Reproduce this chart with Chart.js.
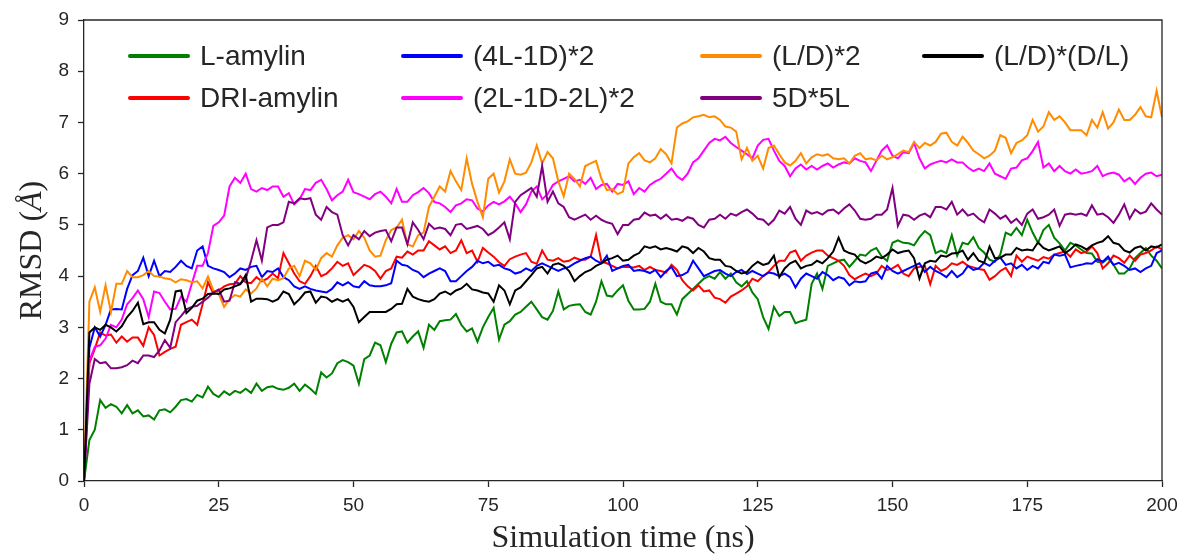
<!DOCTYPE html>
<html>
<head>
<meta charset="utf-8">
<script src="https://cdn.jsdelivr.net/npm/chart.js@4/dist/chart.umd.min.js"></script>
<style>
  html, body { margin: 0; padding: 0; background: #fff; }
</style>
</head>
<body>
<canvas id="rmsd_chart" width="1182" height="555"></canvas>
<script>
// RMSD vs simulation time, one value per ns (0..200)
const timeNs = Array.from({ length: 201 }, (_, i) => i);

const seriesNames = ['L-amylin', 'DRI-amylin', '(4L-1D)*2', '(2L-1D-2L)*2', '(L/D)*2', '5D*5L', '(L/D)*(D/L)'];
const seriesColors = ['#008000', '#ff0000', '#0000ff', '#ff00ff', '#ff8c00', '#800080', '#000000'];

const lAmylin = [
  0, 0.8, 1.0, 1.58, 1.43, 1.5, 1.45, 1.32, 1.48, 1.32,
  1.38, 1.26, 1.28, 1.2, 1.38, 1.4, 1.34, 1.45, 1.58, 1.6,
  1.55, 1.68, 1.63, 1.84, 1.7, 1.64, 1.75, 1.68, 1.76, 1.72,
  1.8, 1.72, 1.9, 1.76, 1.83, 1.85, 1.8, 1.78, 1.82, 1.9,
  1.76, 1.88, 1.8, 1.7, 2.12, 2.02, 2.1, 2.3, 2.36, 2.32,
  2.25, 1.9, 2.38, 2.45, 2.7, 2.65, 2.32, 2.68, 2.9, 2.92,
  2.7, 2.82, 2.92, 2.6, 3.05, 2.95, 3.12, 3.14, 3.15, 3.26,
  3.05, 2.92, 2.98, 2.72, 3.0, 3.2, 3.38, 2.76, 3.05, 3.12,
  3.25, 3.3, 3.4, 3.5, 3.35, 3.2, 3.15, 3.32, 3.7, 3.35,
  3.42, 3.44, 3.45, 3.3, 3.25, 3.5, 3.9, 3.62, 3.6, 3.72,
  3.82, 3.52, 3.35, 3.35, 3.36, 3.5, 3.85, 3.5, 3.45, 3.45,
  3.25, 3.55, 3.65, 3.75, 3.85, 3.95, 4.0, 3.95, 4.08, 3.95,
  4.05, 3.88, 3.8, 3.9, 3.68, 3.55, 3.2, 2.97, 3.4, 3.22,
  3.3, 3.3, 3.08, 3.12, 3.15, 3.85, 4.05, 3.75, 4.2, 4.25,
  4.3, 4.32, 4.18, 4.3, 4.42, 4.4, 4.5, 4.55, 4.38, 4.3,
  4.65, 4.7, 4.65, 4.64, 4.6, 4.76, 4.88, 4.8, 4.45, 4.5,
  4.45, 4.8, 4.4, 4.65, 4.62, 4.76, 4.55, 4.46, 4.32, 4.28,
  4.42, 4.85, 4.8, 4.94, 4.8, 5.1, 4.85, 4.65, 4.9, 5.0,
  4.75, 4.64, 4.5, 4.65, 4.6, 4.52, 4.45, 4.44, 4.28, 4.26,
  4.35, 4.22, 4.05, 4.05, 4.15, 4.35, 4.45, 4.55, 4.4, 4.3,
  4.15
];

const driAmylin = [
  0, 2.3, 2.58, 2.9, 2.84, 2.86, 2.7, 2.82, 2.72, 2.8,
  2.8, 2.64, 3.0, 2.85, 2.45, 2.52, 2.58, 2.62, 3.05, 3.1,
  3.15, 3.05, 3.45, 3.88, 3.66, 3.72, 3.8, 3.84, 3.85, 4.0,
  3.88, 3.86, 3.98, 3.9, 3.95, 4.05, 3.96, 4.45, 4.25, 4.05,
  3.9, 3.85, 4.0, 4.2, 4.0, 4.05, 4.15, 4.28, 4.2, 4.25,
  4.02, 4.12, 4.22, 4.18, 4.1, 3.95, 4.1, 4.15, 4.38, 4.36,
  4.48, 4.42, 4.5, 4.5, 4.68, 4.6, 4.52, 4.58, 4.45, 4.5,
  4.7, 4.45, 4.5, 4.28, 4.55, 4.46, 4.38, 4.27, 4.2, 4.33,
  4.38, 4.42, 4.45, 4.28, 4.24, 4.5, 4.32, 4.3, 4.35, 4.28,
  4.3, 4.36, 4.32, 4.32, 4.38, 4.8, 4.28, 4.25, 4.2, 4.15,
  4.18, 4.18, 4.17, 4.2, 4.12, 4.18, 4.12, 4.1, 4.07, 4.22,
  4.12, 3.92, 3.8, 3.72, 3.82, 3.7, 3.72, 3.58, 3.55, 3.48,
  3.6, 3.66, 3.72, 3.8, 3.95, 3.9, 4.0, 4.08, 4.2, 4.3,
  4.3, 4.46, 4.5, 4.3, 4.4, 4.46, 4.5, 4.5, 4.4, 4.35,
  4.3, 4.2, 4.02, 3.94, 4.0, 4.05, 4.0, 4.05, 4.2, 4.12,
  4.15, 4.22, 4.05, 4.0, 4.15, 4.18, 4.2, 3.84, 4.2, 4.1,
  4.15, 4.25, 4.22, 4.28, 4.2, 4.17, 4.14, 4.12, 3.93, 4.0,
  4.1, 4.16, 4.0, 4.4, 4.28, 4.38, 4.34, 4.3, 4.37, 4.34,
  4.42, 4.45, 4.48, 4.38, 4.52, 4.45, 4.48, 4.58, 4.45, 4.15,
  4.25, 4.4, 4.35, 4.26, 4.4, 4.3, 4.42, 4.45, 4.5, 4.58,
  4.52
];

const lD4x2 = [
  0, 2.6, 3.0, 2.82, 3.05, 3.35, 3.36, 3.35, 3.75, 4.02,
  4.1, 4.36, 4.0, 4.3, 4.0, 4.1, 4.08, 4.18, 4.3, 4.2,
  4.15, 4.5, 4.58, 4.2, 4.15, 4.12, 4.08, 3.98, 4.05, 4.15,
  4.12, 4.18, 4.2, 3.98, 4.1, 4.08, 4.15, 3.98, 3.92, 3.8,
  3.75, 3.8, 3.75, 3.72, 3.7, 3.68, 3.75, 3.88, 3.82, 3.88,
  3.8, 3.78, 3.9, 3.82, 3.8, 3.8, 3.82, 3.86, 4.3, 4.22,
  4.2, 4.12, 4.08, 3.98, 4.05, 4.1, 4.15, 4.1, 3.9, 3.9,
  4.0, 4.1, 4.18, 4.3, 4.25, 4.28, 4.2, 4.22, 4.15, 4.12,
  4.05, 4.08, 4.15, 4.1, 4.2, 4.25, 4.2, 4.15, 4.1, 4.15,
  4.18, 4.25, 4.3, 4.35, 4.38, 4.3, 4.25, 4.4, 4.1, 4.15,
  4.2, 4.22, 4.1, 4.12, 4.1, 4.06, 4.12, 3.98, 4.1, 4.18,
  4.0, 4.02, 4.08, 4.3, 4.15, 4.0, 4.05, 4.1, 4.12, 4.05,
  4.0, 4.08, 4.12, 4.04, 4.1, 4.05, 4.0, 4.07, 4.05, 4.0,
  4.05, 3.98, 3.78, 3.95, 4.05, 4.0, 3.95, 4.08, 4.02, 3.92,
  3.98, 3.95, 3.82, 3.9, 3.88, 3.9, 4.05, 4.08, 3.95, 4.2,
  4.1, 4.05, 4.1, 4.15, 4.2, 4.25, 4.08, 4.18, 4.1, 4.05,
  3.98, 4.1, 3.98, 4.05, 4.2, 4.12, 4.15, 4.26, 4.2, 4.3,
  4.36, 4.22, 4.25, 4.15, 4.22, 4.12, 4.2, 4.15, 4.28, 4.25,
  4.42, 4.4, 4.42, 4.17, 4.2, 4.22, 4.25, 4.24, 4.33, 4.28,
  4.38, 4.22, 4.26, 4.2, 4.12, 4.15, 4.08, 4.15, 4.2, 4.45,
  4.5
];

const lD2L2x2 = [
  0, 2.35, 2.62, 2.65, 2.78, 3.05, 3.0, 3.15, 3.45, 3.57,
  3.72, 3.55, 3.2, 3.7, 3.67, 3.5, 3.35, 3.36, 3.6, 3.5,
  3.85, 4.2, 4.2, 4.45, 4.98, 5.05, 5.18, 5.75, 5.92, 5.82,
  6.0, 5.7, 5.65, 5.72, 5.68, 5.75, 5.75, 5.55, 5.62, 5.4,
  5.5, 5.7, 5.68, 5.82, 5.88, 5.7, 5.48, 5.58, 5.65, 5.88,
  5.64, 5.6, 5.55, 5.5, 5.6, 5.65, 5.55, 5.42, 5.7, 5.45,
  5.45, 5.58, 5.64, 5.72, 5.62, 5.45, 5.42, 5.35, 5.25, 5.38,
  5.42, 5.5, 5.48, 5.32, 5.26, 5.38, 5.45, 5.4, 5.46, 5.55,
  5.42, 5.25, 5.4, 5.65, 5.75, 5.5, 5.6, 5.78, 5.85, 5.9,
  5.95, 5.85, 5.88, 5.8, 5.92, 5.7, 5.78, 5.8, 5.65, 5.8,
  5.78, 5.85, 5.6, 5.72, 5.65, 5.78, 5.85, 5.9, 6.0, 6.1,
  5.95, 5.88, 6.0, 6.22, 6.3, 6.45, 6.6, 6.68, 6.65, 6.72,
  6.6, 6.52, 6.45, 6.38, 6.3, 6.55, 6.66, 6.68, 6.45, 6.25,
  6.15, 5.95, 6.1, 6.18, 6.08, 6.15, 6.08, 6.15, 6.2, 6.12,
  6.18, 6.22, 6.2, 6.3, 6.25, 6.22, 6.05, 6.25, 6.45, 6.55,
  6.35, 6.3, 6.42, 6.4, 6.6, 6.3, 6.1, 6.18, 6.22, 6.25,
  6.22, 6.28, 6.22, 6.22, 6.12, 6.05, 6.1, 6.05, 6.2, 6.0,
  5.95, 5.9, 6.1, 6.12, 6.26, 6.3, 6.44, 6.62, 6.12, 6.2,
  6.05, 6.15, 6.05, 6.0, 6.08, 6.0, 6.02, 6.05, 6.15, 5.95,
  6.0, 6.02, 5.98, 5.85, 5.92, 5.8, 5.92, 6.0, 6.02, 5.95,
  5.98
];

const ldX2 = [
  0, 3.5, 3.78, 3.3, 3.82, 3.3, 3.85, 3.85, 4.1, 3.98,
  3.98, 4.02, 4.1, 4.0, 3.99, 3.96, 3.94, 3.88, 3.94, 3.92,
  3.88, 3.9, 3.76, 3.99, 3.72, 3.65, 3.4, 3.55, 3.63, 3.6,
  3.74, 3.66, 3.76, 3.95, 3.8, 3.95, 3.92, 3.96, 4.15, 4.2,
  4.0, 4.3, 4.25, 4.12, 4.35, 4.45, 4.38, 4.6, 4.75, 4.8,
  4.72, 4.88, 4.75, 4.5, 4.38, 4.4, 4.7, 4.9, 4.95, 5.1,
  4.62, 4.58, 4.8, 4.85, 5.35, 5.55, 5.75, 5.65, 6.05, 5.85,
  5.68, 6.3, 5.8, 5.45, 5.15, 5.9, 6.0, 5.63, 5.85, 6.28,
  6.0, 5.98, 6.02, 6.22, 6.55, 6.2, 6.42, 6.3, 5.85, 5.56,
  6.0, 5.9, 5.75, 6.15, 6.2, 6.25, 5.9, 5.68, 5.7, 5.6,
  5.65, 6.2, 6.32, 6.4, 6.26, 6.22, 6.3, 6.48, 6.38, 6.2,
  6.9, 6.98, 7.02, 7.1, 7.12, 7.15, 7.1, 7.12, 7.05, 6.92,
  6.9, 6.82, 6.28, 6.5, 6.25, 6.35, 6.1, 6.5, 6.55, 6.38,
  6.22, 6.16, 6.25, 6.4, 6.2, 6.32, 6.38, 6.35, 6.38, 6.3,
  6.28, 6.3, 6.2, 6.35, 6.4, 6.28, 6.3, 6.26, 6.35, 6.28,
  6.32, 6.38, 6.45, 6.42, 6.62, 6.5, 6.6, 6.55, 6.62, 6.78,
  6.8, 6.62, 6.55, 6.72, 6.6, 6.45, 6.38, 6.3, 6.35, 6.45,
  6.75, 6.7, 6.4, 6.6, 6.65, 6.75, 7.05, 6.82, 6.92, 7.2,
  7.05, 7.12, 7.0, 6.85, 6.85, 6.85, 6.75, 7.05, 6.9, 7.2,
  6.88, 7.0, 7.25, 7.05, 7.05, 7.15, 7.3, 7.12, 7.1, 7.62,
  7.1
];

const d5l5 = [
  0, 1.9, 2.38, 2.3, 2.32, 2.2, 2.2, 2.22, 2.26, 2.35,
  2.3, 2.45, 2.45, 2.42, 2.55, 2.75, 2.6, 3.1, 3.22, 3.35,
  3.4, 3.42, 3.5, 3.58, 3.68, 3.74, 3.5, 3.52, 3.88, 3.85,
  3.95, 4.3, 4.7, 4.3, 4.95, 5.0, 5.0, 5.05, 5.45, 5.42,
  5.52, 5.5, 5.52, 5.2, 5.1, 5.35, 5.25, 5.2, 4.8, 4.6,
  4.8, 4.72, 4.88, 4.78, 4.85, 4.88, 4.9, 4.68, 4.95, 4.95,
  4.62, 5.05, 4.9, 4.72, 5.02, 4.92, 4.95, 4.92, 4.8, 5.0,
  5.02, 4.92, 4.95, 4.98, 4.92, 4.8, 4.86, 4.95, 5.05, 4.72,
  5.45, 5.58, 5.65, 5.72, 5.55, 6.15, 5.45, 5.65, 5.42, 5.35,
  5.15, 5.1, 5.15, 5.2, 5.1, 5.18, 5.1, 5.05, 5.02, 4.82,
  5.0, 5.0, 5.1, 5.12, 5.24, 5.18, 5.2, 5.12, 5.2, 5.1,
  5.12, 5.08, 5.15, 5.12, 5.0, 4.95, 5.1, 5.12, 5.2, 5.12,
  5.22, 5.18, 5.25, 5.3, 5.22, 5.12, 5.1, 5.0, 5.1, 5.28,
  5.22, 5.35, 5.12, 5.0, 5.28, 5.22, 5.25, 5.2, 5.28, 5.3,
  5.22, 5.32, 5.4, 5.28, 5.12, 5.1, 5.12, 5.2, 5.2, 5.3,
  5.72, 4.98, 5.2, 5.18, 5.1, 5.18, 5.22, 5.15, 5.35, 5.35,
  5.3, 5.45, 5.2, 5.3, 5.18, 5.22, 5.12, 5.05, 5.3, 5.22,
  5.12, 5.18, 5.04, 5.12, 5.0, 5.22, 5.3, 5.12, 5.15, 5.2,
  5.3, 4.98, 5.2, 5.22, 5.2, 5.22, 5.18, 5.38, 5.2, 5.22,
  5.15, 5.04, 5.2, 5.4, 5.12, 5.3, 5.22, 5.26, 5.42, 5.3,
  5.2
];

const ldDl = [
  0, 2.9, 3.0, 2.95, 3.05, 3.0, 2.92, 3.02, 3.2, 3.32,
  3.48, 3.06, 3.1, 3.1, 2.95, 2.88, 3.15, 3.7, 3.72, 3.28,
  3.38, 3.52, 3.56, 3.65, 3.66, 3.65, 3.74, 3.76, 3.8, 3.84,
  4.02, 3.5, 3.56, 3.56, 3.55, 3.5, 3.55, 3.7, 3.65, 3.45,
  3.55, 3.68, 3.7, 3.48, 3.6, 3.58, 3.5, 3.55, 3.5, 3.55,
  3.4, 3.1, 3.2, 3.3, 3.3, 3.3, 3.3, 3.36, 3.45, 3.46,
  3.75, 3.6, 3.55, 3.52, 3.5, 3.55, 3.66, 3.7, 3.64, 3.72,
  3.76, 3.85, 3.74, 3.72, 3.68, 3.66, 3.5, 3.82, 3.72, 3.45,
  3.72, 3.78, 3.9, 4.02, 4.15, 4.18, 4.05, 4.22, 4.25, 4.2,
  4.1, 3.9, 4.0, 4.08, 4.12, 4.2, 4.25, 4.32, 4.35, 4.4,
  4.3, 4.32, 4.4, 4.45, 4.58, 4.55, 4.58, 4.52, 4.55, 4.52,
  4.48, 4.58, 4.55, 4.45, 4.55, 4.48, 4.35, 4.32, 4.32, 4.2,
  4.18, 4.1, 4.05, 4.08, 4.2, 4.28, 4.22, 4.25, 4.4, 3.98,
  4.15, 4.25, 4.3, 4.15, 4.2, 4.22, 4.3, 4.25, 4.35, 4.48,
  4.75, 4.5, 4.45, 4.42, 4.3, 4.25, 4.3, 4.38, 4.35, 4.42,
  4.52, 4.45, 4.48, 4.5, 4.35, 3.95, 4.25, 4.3, 4.28, 4.4,
  4.38, 4.44, 4.45, 4.5, 4.32, 4.45, 4.3, 4.26, 4.58, 4.35,
  4.36, 4.42, 4.42, 4.55, 4.5, 4.52, 4.5, 4.66, 4.55, 4.5,
  4.54, 4.58, 4.45, 4.52, 4.62, 4.58, 4.52, 4.6, 4.65, 4.68,
  4.78, 4.65, 4.62, 4.5, 4.46, 4.55, 4.58, 4.5, 4.58, 4.56,
  4.62
];

const seriesValues = [lAmylin, driAmylin, lD4x2, lD2L2x2, ldX2, d5l5, ldDl];

const yTicksMax = 9;
const xTicksMax = 200;
const xTitle = 'Simulation time (ns)';
// y title pieces: the Å symbol is set in italic
const yTitleParts = [['RMSD (', 'normal'], ['Å', 'italic'], [')', 'normal']];

const textColor = '#262626';
const tickFont = { family: "'Liberation Sans', Arial, sans-serif", size: 19 };
const titleFont = { family: "'Liberation Serif', 'Times New Roman', serif", size: 32, lineHeight: 1 };

// matplotlib-style box: top and right edges
const frame = {
  id: 'frame',
  afterDraw(chart) {
    const { ctx, chartArea: a } = chart;
    ctx.save();
    ctx.strokeStyle = textColor;
    ctx.lineWidth = 1.3;
    ctx.beginPath();
    ctx.moveTo(a.left, a.top);
    ctx.lineTo(a.right, a.top);
    ctx.lineTo(a.right, a.bottom);
    ctx.stroke();
    ctx.restore();
  }
};

// rotated y title with mixed upright / italic pieces
const yTitle = {
  id: 'yTitle',
  afterDraw(chart) {
    const { ctx, chartArea: a } = chart;
    const fontOf = st => st + " 32px 'Liberation Serif', 'Times New Roman', serif";
    ctx.save();
    ctx.translate(33, (a.top + a.bottom) / 2);
    ctx.rotate(-Math.PI / 2);
    ctx.textBaseline = 'middle';
    ctx.textAlign = 'left';
    ctx.fillStyle = textColor;
    let total = 0;
    yTitleParts.forEach(([t, st]) => { ctx.font = fontOf(st); total += ctx.measureText(t).width; });
    let x = -total / 2;
    yTitleParts.forEach(([t, st]) => {
      ctx.font = fontOf(st);
      ctx.fillText(t, x, 0);
      x += ctx.measureText(t).width;
    });
    ctx.restore();
  }
};

// legend inside the plot, 4 columns, filled column by column
const insideLegend = {
  id: 'insideLegend',
  afterDatasetsDraw(chart) {
    const ctx = chart.ctx;
    const cols = [128, 401, 700, 922];
    const rows = [56, 98];
    ctx.save();
    ctx.font = "28px 'Liberation Sans', Arial, sans-serif";
    ctx.textBaseline = 'middle';
    ctx.lineCap = 'round';
    chart.data.datasets.forEach((ds, k) => {
      const x = cols[Math.floor(k / 2)];
      const y = rows[k % 2];
      ctx.strokeStyle = ds.borderColor;
      ctx.lineWidth = 4;
      ctx.beginPath();
      ctx.moveTo(x + 2, y);
      ctx.lineTo(x + 60, y);
      ctx.stroke();
      ctx.fillStyle = textColor;
      ctx.fillText(ds.label, x + 72, y + 1);
    });
    ctx.restore();
  }
};

const datasets = seriesNames.map((name, i) => ({
  label: name,
  data: timeNs.map((t, j) => ({ x: t, y: seriesValues[i][j] })),
  borderColor: seriesColors[i],
  backgroundColor: seriesColors[i],
  borderWidth: 2,
  pointRadius: 0,
  tension: 0,
  fill: false,
  order: seriesNames.length - i
}));

new Chart(document.getElementById('rmsd_chart'), {
  type: 'line',
  data: { datasets: datasets },
  options: {
    responsive: false,
    animation: false,
    devicePixelRatio: 1,
    layout: { padding: { top: 20, right: 20, left: 0, bottom: 0 } },
    plugins: {
      legend: { display: false },
      tooltip: { enabled: false }
    },
    scales: {
      x: {
        type: 'linear',
        min: 0,
        max: xTicksMax,
        afterFit: s => { s.height = 74; s.paddingLeft = 0; s.paddingRight = 0; },
        ticks: { stepSize: 25, color: textColor, font: tickFont, padding: 7, maxRotation: 0 },
        grid: { drawOnChartArea: false, drawTicks: true, tickLength: 6, tickColor: textColor, tickWidth: 1.3 },
        border: { color: textColor, width: 1.3 },
        title: { display: true, text: xTitle, color: textColor, font: titleFont, padding: { top: 0, bottom: 0 } }
      },
      y: {
        min: 0,
        max: yTicksMax,
        afterFit: s => { s.width = 84; s.paddingTop = 0; s.paddingBottom = 0; },
        ticks: { stepSize: 1, color: textColor, font: tickFont, padding: 9 },
        grid: { drawOnChartArea: false, drawTicks: true, tickLength: 6, tickColor: textColor, tickWidth: 1.3 },
        border: { color: textColor, width: 1.3 }
      }
    }
  },
  plugins: [frame, yTitle, insideLegend]
});
</script>
</body>
</html>
